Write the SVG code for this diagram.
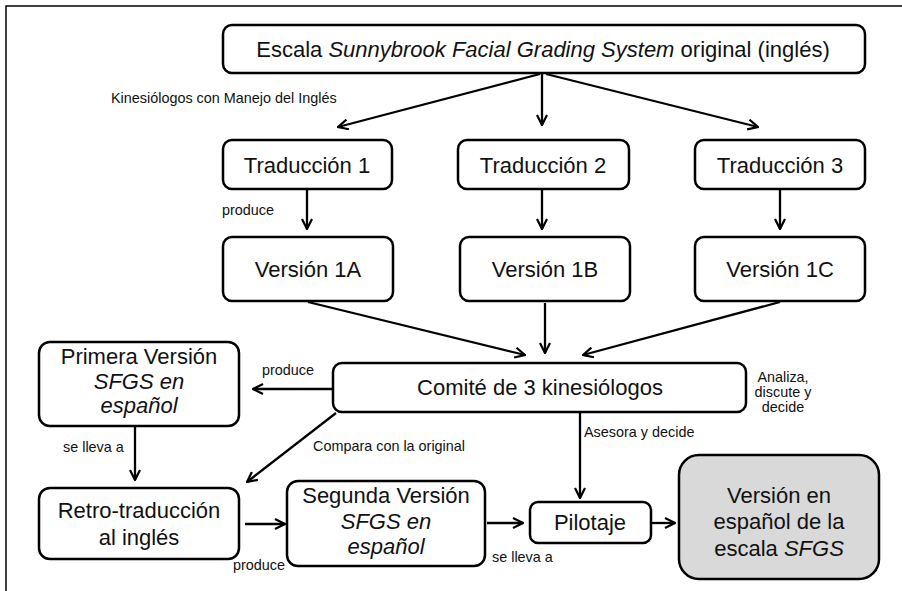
<svg xmlns="http://www.w3.org/2000/svg" width="902" height="591" viewBox="0 0 902 591">
  <defs>
    <marker id="arrow" viewBox="0 0 12 12" refX="11" refY="6" markerWidth="12" markerHeight="12" markerUnits="userSpaceOnUse" orient="auto">
      <path d="M1,1 L11,6 L1,11" fill="none" stroke="#000" stroke-width="2.2" stroke-linejoin="miter"/>
    </marker>
  </defs>
  <style>
    .box { fill: #fff; stroke: #000; stroke-width: 2.5; }
    .final { fill: #d9d9d9; stroke: #000; stroke-width: 2.5; }
    .t { font-family: "Liberation Sans", Arial, sans-serif; font-size: 22px; fill: #111; text-anchor: middle; }
    .lbl { font-family: "Liberation Sans", Arial, sans-serif; font-size: 14.4px; fill: #111; }
    .c { fill: none; stroke: #000; stroke-width: 2.3; marker-end: url(#arrow); }
  </style>
  <rect width="902" height="591" fill="#fff"/>
  <!-- frame: top and left rules -->
  <path d="M6,591 V6 H902" fill="none" stroke="#000" stroke-width="1.5"/>

  <g id="connectors">
    <path class="c" d="M540,74 L338,127"/>
    <path class="c" d="M542,74 L542,125"/>
    <path class="c" d="M546,74 L758,127"/>
    <path class="c" d="M307,190 L307,229"/>
    <path class="c" d="M542,190 L542,229"/>
    <path class="c" d="M780,190 L780,229"/>
    <path class="c" d="M308,302 L525,355"/>
    <path class="c" d="M545,303 L545,353"/>
    <path class="c" d="M780,302 L583,355"/>
    <path class="c" d="M332,389 L253,389"/>
    <path class="c" d="M336,413 L247,482"/>
    <path class="c" d="M135,427 L135,480"/>
    <path class="c" d="M245,524 L285,524"/>
    <path class="c" d="M487,523 L523,523"/>
    <path class="c" d="M580,413 L580,498"/>
    <path class="c" d="M652,523 L675,523"/>
  </g>

  <g id="labels">
    <text class="lbl" x="111" y="103">Kinesiólogos con Manejo del Inglés</text>
    <text class="lbl" x="222" y="215">produce</text>
    <text class="lbl" x="262" y="375">produce</text>
    <text class="lbl" x="783" y="382" text-anchor="middle">Analiza,</text>
    <text class="lbl" x="783" y="397" text-anchor="middle">discute y</text>
    <text class="lbl" x="783" y="412" text-anchor="middle">decide</text>
    <text class="lbl" x="313" y="451">Compara con la original</text>
    <text class="lbl" x="584" y="437">Asesora y decide</text>
    <text class="lbl" x="63" y="452">se lleva a</text>
    <text class="lbl" x="233" y="570">produce</text>
    <text class="lbl" x="492" y="562">se lleva a</text>
  </g>

  <g id="original">
    <rect class="box" x="223" y="25" width="642" height="48" rx="9"/>
    <text class="t" x="543" y="57">Escala <tspan font-style="italic">Sunnybrook Facial Grading System</tspan> original (inglés)</text>
  </g>
  <g id="traduccion1">
    <rect class="box" x="223" y="140" width="169" height="49" rx="9"/>
    <text class="t" x="307" y="173">Traducción 1</text>
  </g>
  <g id="traduccion2">
    <rect class="box" x="458" y="140" width="171" height="49" rx="9"/>
    <text class="t" x="543" y="173">Traducción 2</text>
  </g>
  <g id="traduccion3">
    <rect class="box" x="695" y="140" width="170" height="49" rx="9"/>
    <text class="t" x="780" y="173">Traducción 3</text>
  </g>
  <g id="version1a">
    <rect class="box" x="223" y="237" width="170" height="64" rx="9"/>
    <text class="t" x="308" y="277">Versión 1A</text>
  </g>
  <g id="version1b">
    <rect class="box" x="460" y="237" width="170" height="64" rx="9"/>
    <text class="t" x="545" y="277">Versión 1B</text>
  </g>
  <g id="version1c">
    <rect class="box" x="695" y="237" width="170" height="64" rx="9"/>
    <text class="t" x="780" y="277">Versión 1C</text>
  </g>
  <g id="comite">
    <rect class="box" x="333" y="363" width="413" height="49" rx="9"/>
    <text class="t" x="540" y="395">Comité de 3 kinesiólogos</text>
  </g>
  <g id="primera">
    <rect class="box" x="39" y="342" width="200" height="84" rx="11"/>
    <text class="t" x="139" y="364">Primera Versión</text>
    <text class="t" x="139" y="389" font-style="italic">SFGS en</text>
    <text class="t" x="139" y="413" font-style="italic">español</text>
  </g>
  <g id="retro">
    <rect class="box" x="39" y="488" width="200" height="71" rx="11"/>
    <text class="t" x="139" y="518">Retro-traducción</text>
    <text class="t" x="139" y="545">al inglés</text>
  </g>
  <g id="segunda">
    <rect class="box" x="287" y="481" width="198" height="85" rx="11"/>
    <text class="t" x="386" y="503">Segunda Versión</text>
    <text class="t" x="386" y="529" font-style="italic">SFGS en</text>
    <text class="t" x="386" y="554" font-style="italic">español</text>
  </g>
  <g id="pilotaje">
    <rect class="box" x="530" y="502" width="121" height="41" rx="8"/>
    <text class="t" x="590" y="530">Pilotaje</text>
  </g>
  <g id="final">
    <rect class="final" x="679" y="455" width="200" height="124" rx="20"/>
    <text class="t" x="779" y="503">Versión en</text>
    <text class="t" x="779" y="529">español de la</text>
    <text class="t" x="779" y="556">escala <tspan font-style="italic">SFGS</tspan></text>
  </g>
</svg>
